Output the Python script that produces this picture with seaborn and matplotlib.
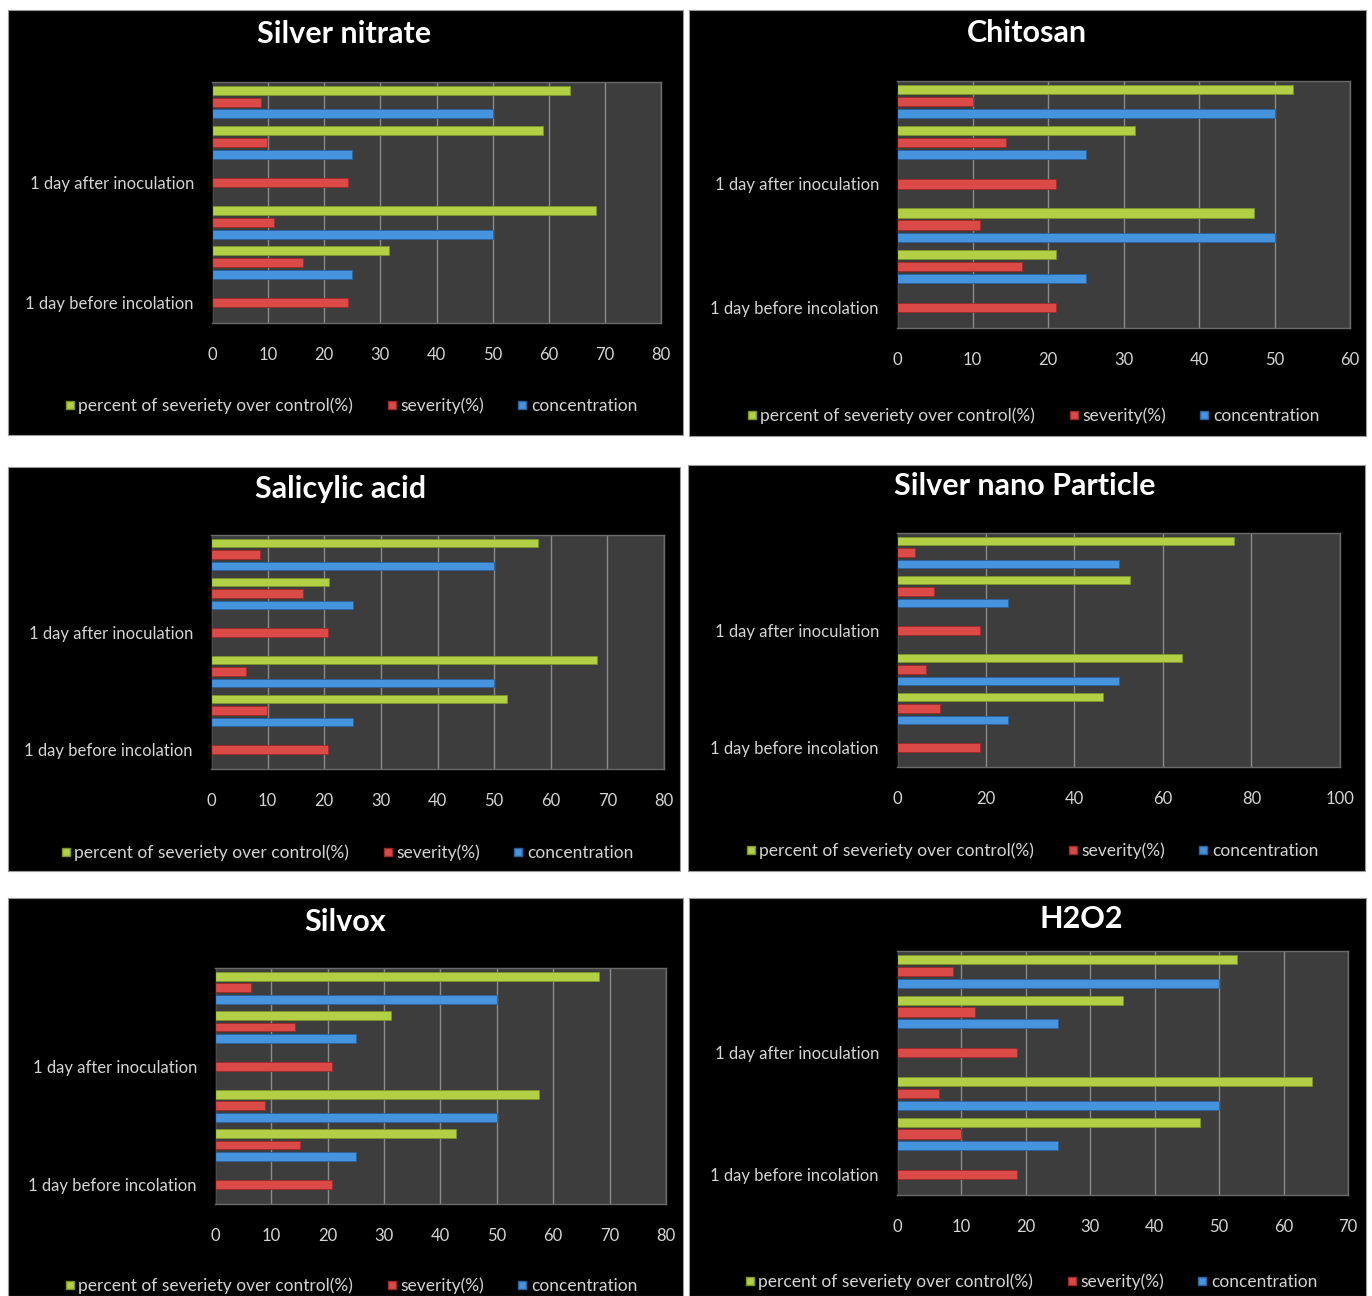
import numpy as np
import pandas as pd
import matplotlib
matplotlib.use("Agg")
import matplotlib.pyplot as plt
from matplotlib.patches import Rectangle
from matplotlib.lines import Line2D
import seaborn as sns

sns.set_style("white")
plt.rcParams['font.family'] = ['Lato', 'DejaVu Sans']

# ---------------- data ----------------
categories = ["after_50", "after_25", "1 day after inoculation",
              "before_50", "before_25", "1 day before incolation"]
tick_labels = ["", "", "1 day after inoculation", "", "", "1 day before incolation"]
series_names = ["percent of severiety over control(%)", "severity(%)", "concentration"]

titles = ["Silver nitrate", "Chitosan", "Salicylic acid",
          "Silver nano Particle", "Silvox", "H2O2"]

concentration = [50, 25, None, 50, 25, None]

silver_nitrate_severity = [8.7, 9.8, 24.3, 11.0, 16.3, 24.3]
silver_nitrate_percent = [63.7, 58.9, None, 68.4, 31.6, None]

chitosan_severity = [10.0, 14.4, 21.0, 11.0, 16.5, 21.0]
chitosan_percent = [52.4, 31.5, None, 47.3, 21.0, None]

salicylic_severity = [8.6, 16.2, 20.7, 6.2, 9.9, 20.7]
salicylic_percent = [57.7, 20.8, None, 68.2, 52.3, None]

silver_nano_severity = [4.1, 8.4, 18.7, 6.5, 9.7, 18.7]
silver_nano_percent = [76.0, 52.6, None, 64.4, 46.5, None]

silvox_severity = [6.4, 14.2, 20.7, 8.8, 15.0, 20.7]
silvox_percent = [68.2, 31.2, None, 57.5, 42.7, None]

h2o2_severity = [8.7, 12.1, 18.7, 6.5, 9.9, 18.7]
h2o2_percent = [52.8, 35.0, None, 64.4, 47.0, None]

x_max = [80, 60, 80, 100, 80, 70]
x_step = [10, 10, 10, 20, 10, 10]

severities = [silver_nitrate_severity, chitosan_severity, salicylic_severity,
              silver_nano_severity, silvox_severity, h2o2_severity]
percents = [silver_nitrate_percent, chitosan_percent, salicylic_percent,
            silver_nano_percent, silvox_percent, h2o2_percent]

colors = {series_names[0]: "#b3cf45", series_names[1]: "#dc4a47", series_names[2]: "#4693de"}
edges = {series_names[0]: "#7c9426", series_names[1]: "#9c2a28", series_names[2]: "#2a62a0"}

# ---------------- layout (pixels) ----------------
W, H = 1372, 1296
boxes = [(8, 10, 683, 435), (689, 10, 1366, 436), (8, 467, 680, 871),
         (688, 465, 1365, 871), (8, 898, 683, 1296), (689, 898, 1366, 1296)]
plots = [(212, 82, 661, 323), (897, 81, 1350, 328), (211, 535, 664, 769),
         (897, 533, 1340, 767), (215, 968, 666, 1204), (897, 951, 1348, 1195)]
title_pos = [(344, 34), (1027, 33), (341, 489), (1025, 486), (345, 922), (1081, 919)]
legend_pos = [(350, 406), (1032, 416), (346, 853), (1031, 851), (350, 1286), (1030, 1282)]

fig = plt.figure(figsize=(W / 100, H / 100), dpi=100, facecolor="white")


def fx(x):
    return x / W


def fy(y):
    return 1 - y / H


for i in range(6):
    x0, y0, x1, y1 = boxes[i]
    fig.patches.append(Rectangle((fx(x0), fy(y1)), fx(x1) - fx(x0), fy(y0) - fy(y1),
                                 transform=fig.transFigure, facecolor="black",
                                 edgecolor="#9a9a9a", linewidth=0.8, zorder=-5))

    px0, py0, px1, py1 = plots[i]
    ax = fig.add_axes([fx(px0), fy(py1), fx(px1) - fx(px0), fy(py0) - fy(py1)])
    ax.set_zorder(2)
    ax.set_facecolor("#3d3d3d")

    rows = []
    for cat, p, s, c in zip(categories, percents[i], severities[i], concentration):
        rows.append((cat, series_names[0], p))
        rows.append((cat, series_names[1], s))
        rows.append((cat, series_names[2], c))
    df = pd.DataFrame(rows, columns=["category", "series", "value"])
    df["value"] = df["value"].astype(float)

    sns.barplot(data=df, x="value", y="category", hue="series", order=categories,
                hue_order=series_names, palette=colors, orient="h", width=0.88,
                gap=0.24, ax=ax, legend=False, linewidth=0.8, edgecolor="none",
                saturation=1, errorbar=None)
    for bar_container, name in zip(ax.containers, series_names):
        for bar in bar_container:
            bar.set_edgecolor(edges[name])
            bar.set_linewidth(0.6)

    ax.set_xlim(0, x_max[i])
    ax.set_xticks(np.arange(0, x_max[i] + 1, x_step[i]))
    ax.set_yticks(range(len(categories)))
    ax.set_yticklabels(tick_labels)
    ax.set_xlabel("")
    ax.set_ylabel("")
    ax.grid(axis="x", color="#8a8a8a", linewidth=1.0)
    ax.grid(axis="y", visible=False)
    ax.set_axisbelow(True)
    for side in ["top", "right", "bottom"]:
        ax.spines[side].set_color("#6a6a6a")
        ax.spines[side].set_linewidth(1.0)
    ax.spines["left"].set_color("#1a1a1a")
    ax.tick_params(axis="x", length=0, pad=17, labelsize=12, labelcolor="#d4d4d4")
    ax.tick_params(axis="y", length=0, pad=13, labelsize=12, labelcolor="#d4d4d4")

    tx, ty = title_pos[i]
    fig.text(fx(tx), fy(ty), titles[i], ha="center", va="center", color="white",
             fontsize=22, fontweight="bold")

    handles = [Line2D([0], [0], marker="s", linestyle="none", markersize=6,
                      markerfacecolor=colors[n], markeredgecolor=edges[n], label=n)
               for n in series_names]
    lx, ly = legend_pos[i]
    fig.legend(handles=handles, loc="center", bbox_to_anchor=(fx(lx), fy(ly)),
               ncol=3, frameon=False, fontsize=12.5, labelcolor="#d4d4d4",
               handletextpad=0.1, columnspacing=1.8, handlelength=0.8,
               borderaxespad=0, borderpad=0)

fig.savefig("out.png", dpi=100, facecolor="white")
